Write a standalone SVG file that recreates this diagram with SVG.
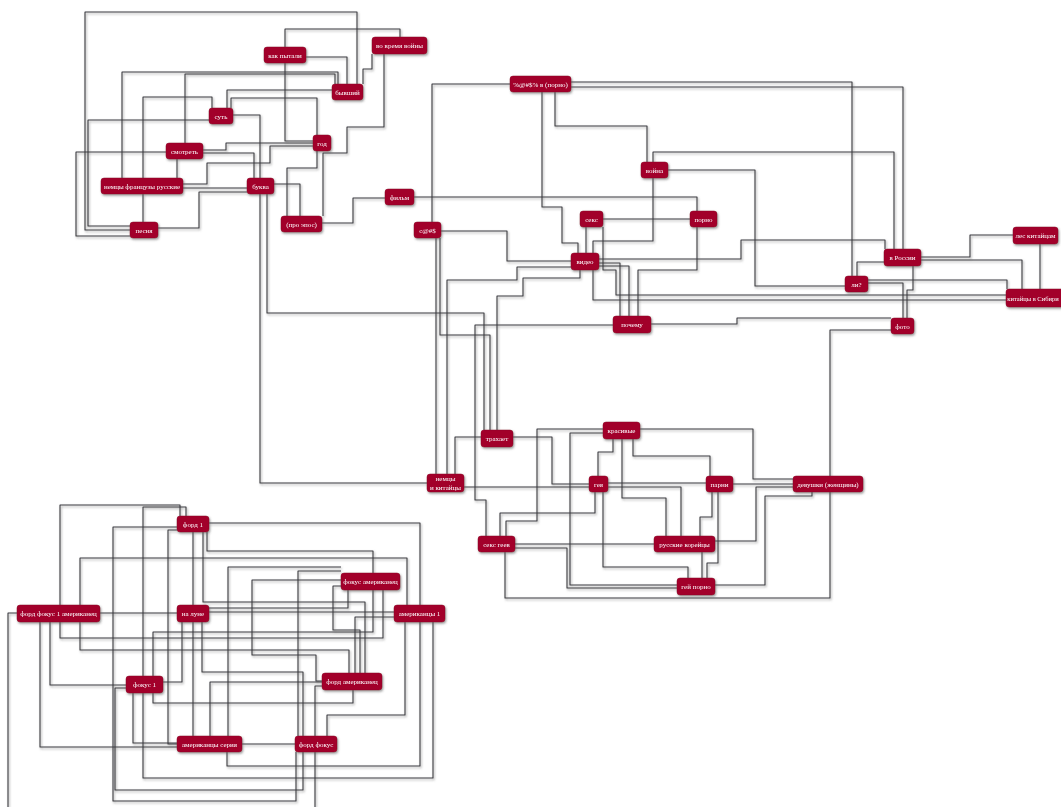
<svg xmlns="http://www.w3.org/2000/svg" width="1061" height="807" viewBox="0 0 1061 807">
<defs>
<filter id="sh" x="-20%" y="-20%" width="140%" height="140%"><feDropShadow dx="1" dy="1.5" stdDeviation="1.2" flood-color="#555" flood-opacity="0.6"/></filter>
<filter id="lsh" x="-5%" y="-5%" width="110%" height="110%"><feDropShadow dx="1" dy="1.5" stdDeviation="0.8" flood-color="#777" flood-opacity="0.7"/></filter>
</defs>
<style>
.e{fill:none;stroke:#3b3b40;stroke-width:1.1;stroke-linejoin:round}
.n rect{fill:#a2002c;stroke:#8a0024;stroke-width:0.5}
.n text{fill:#fff;font-family:"Liberation Serif","DejaVu Serif",serif;font-size:7px;text-anchor:middle}
</style>
<rect width="1061" height="807" fill="#fff"/>
<g id="connectors" filter="url(#lsh)">
<path class="e" d="M130,230 H85 V12 H357 V84"/>
<path class="e" d="M400,37 V29 H285 V141 H313"/>
<path class="e" d="M306,57 H347 V84"/>
<path class="e" d="M363,84 V69 H372 V54"/>
<path class="e" d="M384,54 V127 H347 V153 H323 V216"/>
<path class="e" d="M122,178 V72 H338 V84"/>
<path class="e" d="M185,143 V74 H335 V84"/>
<path class="e" d="M143,178 V97 H212 V108"/>
<path class="e" d="M227,108 V90 H332"/>
<path class="e" d="M231,108 V98 H317 V135"/>
<path class="e" d="M233,115 H260 V178"/>
<path class="e" d="M203,150 H226 V143 H313"/>
<path class="e" d="M203,153 H254 V178"/>
<path class="e" d="M166,152 H76 V236 H130"/>
<path class="e" d="M177,178 V159"/>
<path class="e" d="M143,194 V222"/>
<path class="e" d="M183,184 H207 V163 H270 V146 H313"/>
<path class="e" d="M183,188 H247"/>
<path class="e" d="M158,228 H199 V192 H247"/>
<path class="e" d="M274,184 H300 V216"/>
<path class="e" d="M322,223 H353 V198 H385"/>
<path class="e" d="M317,151 V168 H287 V216"/>
<path class="e" d="M130,226 H88 V120 H209"/>
<path class="e" d="M260,194 V483 H427"/>
<path class="e" d="M267,194 V313 H484 V430"/>
<path class="e" d="M510,84 H432 V222"/>
<path class="e" d="M542,92 V207 H562 V243 H578 V253"/>
<path class="e" d="M555,92 V126 H647 V162"/>
<path class="e" d="M571,82 H852 V276"/>
<path class="e" d="M571,87 H903 V249"/>
<path class="e" d="M653,162 V152 H894 V249"/>
<path class="e" d="M668,170 H755 V286 H845"/>
<path class="e" d="M653,178 V241 H593 V300 H1006"/>
<path class="e" d="M603,219 H690"/>
<path class="e" d="M586,227 V253"/>
<path class="e" d="M603,227 V270 H616 V295 H1006"/>
<path class="e" d="M599,263 H620 V316"/>
<path class="e" d="M599,266 H629 V316"/>
<path class="e" d="M599,259 H741 V240 H885 V249"/>
<path class="e" d="M697,227 V270 H638 V316"/>
<path class="e" d="M414,197 H697 V211"/>
<path class="e" d="M441,231 H507 V261 H571"/>
<path class="e" d="M436,238 V474"/>
<path class="e" d="M440,238 V335 H490 V430"/>
<path class="e" d="M571,267 H517 V280 H447 V474"/>
<path class="e" d="M580,270 V278 H523 V296 H497 V430"/>
<path class="e" d="M613,325 H475 V500 H486 V536"/>
<path class="e" d="M651,324 H737 V318 H891"/>
<path class="e" d="M891,330 H830 V598 H505 V552"/>
<path class="e" d="M913,266 V290 H907 V318"/>
<path class="e" d="M868,283 H903 V318"/>
<path class="e" d="M857,276 V262 H884"/>
<path class="e" d="M868,280 H1007 V289"/>
<path class="e" d="M921,257 H970 V235 H1013"/>
<path class="e" d="M921,260 H1022 V289"/>
<path class="e" d="M1040,244 V289"/>
<path class="e" d="M481,437 H455 V474"/>
<path class="e" d="M513,437 H552 V484 H589"/>
<path class="e" d="M464,487 H681 V536"/>
<path class="e" d="M640,429 H753 V479 H793"/>
<path class="e" d="M603,429 H537 V521 H506 V536"/>
<path class="e" d="M603,433 H570 V585 H677"/>
<path class="e" d="M613,439 V452 H598 V476"/>
<path class="e" d="M633,439 V456 H710 V476"/>
<path class="e" d="M622,439 V498 H666 V536"/>
<path class="e" d="M603,492 V567 H688 V578"/>
<path class="e" d="M608,483 H706"/>
<path class="e" d="M595,492 V513 H500 V536"/>
<path class="e" d="M733,484 H793"/>
<path class="e" d="M712,492 V517 H700 V536"/>
<path class="e" d="M718,492 V563 H707 V578"/>
<path class="e" d="M702,552 V578"/>
<path class="e" d="M793,487 H756 V541 H715"/>
<path class="e" d="M812,492 V496 H765 V585 H715"/>
<path class="e" d="M515,544 H654"/>
<path class="e" d="M515,548 H567 V588 H677"/>
<path class="e" d="M193,532 V605"/>
<path class="e" d="M209,523 H420 V766 H227 V752"/>
<path class="e" d="M207,532 V551 H373 V632 H153 V676"/>
<path class="e" d="M383,590 V638 H60 V505 H180 V516"/>
<path class="e" d="M186,516 V507 H143 V778 H433 V622"/>
<path class="e" d="M203,532 V602 H365 V673"/>
<path class="e" d="M177,527 H113 V801 H296 V752"/>
<path class="e" d="M177,530 H168 V744 H177"/>
<path class="e" d="M40,622 V747 H177"/>
<path class="e" d="M50,622 V685 H126"/>
<path class="e" d="M17,613 H8 V807"/>
<path class="e" d="M80,605 V558 H407 V605"/>
<path class="e" d="M80,622 V650 H349 V673"/>
<path class="e" d="M100,613 H177"/>
<path class="e" d="M182,622 V682 H163"/>
<path class="e" d="M193,622 V736"/>
<path class="e" d="M202,622 V672 H303 V736"/>
<path class="e" d="M126,688 H115 V790 H303 V752"/>
<path class="e" d="M209,612 H394"/>
<path class="e" d="M209,608 H348 V590"/>
<path class="e" d="M133,693 V743 H177"/>
<path class="e" d="M153,693 V703 H353 V690"/>
<path class="e" d="M210,736 V682 H322"/>
<path class="e" d="M228,736 V567 H341"/>
<path class="e" d="M242,744 H295"/>
<path class="e" d="M327,736 V715 H405 V622"/>
<path class="e" d="M298,736 V571 H341"/>
<path class="e" d="M341,586 H333 V630 H360 V673"/>
<path class="e" d="M341,580 H252 V655 H316 V681 H322"/>
<path class="e" d="M394,617 H355 V673"/>
<path class="e" d="M322,686 H315 V807"/>
</g>
<g filter="url(#sh)">
<g id="n-kak" class="n"><rect x="264" y="47" width="42" height="16" rx="3"/><text x="285" y="57.5">как пытали</text></g>
<g id="n-vovremya" class="n"><rect x="372" y="37" width="55" height="17" rx="3"/><text x="399.5" y="48">во время войны</text></g>
<g id="n-byvshiy" class="n"><rect x="332" y="84" width="31" height="16" rx="3"/><text x="347.5" y="94.5">бывший</text></g>
<g id="n-sut" class="n"><rect x="209" y="108" width="24" height="16" rx="3"/><text x="221" y="118.5">суть</text></g>
<g id="n-god" class="n"><rect x="313" y="135" width="18" height="16" rx="3"/><text x="322" y="145.5">год</text></g>
<g id="n-smotret" class="n"><rect x="166" y="143" width="37" height="16" rx="3"/><text x="184.5" y="153.5">смотреть</text></g>
<g id="n-nemcyfr" class="n"><rect x="101" y="178" width="82" height="16" rx="3"/><text x="142" y="188.5">немцы французы русские</text></g>
<g id="n-bukva" class="n"><rect x="247" y="178" width="27" height="16" rx="3"/><text x="260.5" y="188.5">буква</text></g>
<g id="n-pesnya" class="n"><rect x="130" y="222" width="28" height="16" rx="3"/><text x="144" y="232.5">песня</text></g>
<g id="n-epos" class="n"><rect x="281" y="216" width="41" height="16" rx="3"/><text x="301.5" y="226.5">(про эпос)</text></g>
<g id="n-film" class="n"><rect x="385" y="189" width="29" height="16" rx="3"/><text x="399.5" y="199.5">фильм</text></g>
<g id="n-s" class="n"><rect x="414" y="222" width="27" height="16" rx="3"/><text x="427.5" y="232.5">с@#$</text></g>
<g id="n-pv" class="n"><rect x="510" y="76" width="61" height="16" rx="3"/><text x="540.5" y="86.5">%@#$% в (порно)</text></g>
<g id="n-voyna" class="n"><rect x="641" y="162" width="27" height="16" rx="3"/><text x="654.5" y="172.5">война</text></g>
<g id="n-seks" class="n"><rect x="580" y="211" width="23" height="16" rx="3"/><text x="591.5" y="221.5">секс</text></g>
<g id="n-porno" class="n"><rect x="690" y="211" width="27" height="16" rx="3"/><text x="703.5" y="221.5">порно</text></g>
<g id="n-video" class="n"><rect x="571" y="253" width="28" height="17" rx="3"/><text x="585" y="264">видео</text></g>
<g id="n-pochemu" class="n"><rect x="613" y="316" width="38" height="17" rx="3"/><text x="632" y="327">почему</text></g>
<g id="n-vrossii" class="n"><rect x="884" y="249" width="37" height="17" rx="3"/><text x="902.5" y="260">в России</text></g>
<g id="n-li" class="n"><rect x="845" y="276" width="23" height="16" rx="3"/><text x="856.5" y="286.5">ли?</text></g>
<g id="n-les" class="n"><rect x="1013" y="227" width="45" height="17" rx="3"/><text x="1035.5" y="238">лес китайцам</text></g>
<g id="n-kitsib" class="n"><rect x="1006" y="289" width="72" height="18" rx="3"/><text x="1033" y="300.5" style="font-size:6.5px">китайцы в Сибири</text></g>
<g id="n-foto" class="n"><rect x="891" y="318" width="23" height="16" rx="3"/><text x="902.5" y="328.5">фото</text></g>
<g id="n-trahaet" class="n"><rect x="481" y="430" width="32" height="17" rx="3"/><text x="497" y="441">трахает</text></g>
<g id="n-krasivye" class="n"><rect x="603" y="422" width="37" height="17" rx="3"/><text x="621.5" y="433">красивые</text></g>
<g id="n-nemkit" class="n"><rect x="427" y="474" width="37" height="18" rx="3"/><text x="445.5" y="481">немцы</text><text x="445.5" y="489.5">и китайцы</text></g>
<g id="n-geya" class="n"><rect x="589" y="476" width="19" height="16" rx="3"/><text x="598.5" y="486.5">гея</text></g>
<g id="n-parni" class="n"><rect x="706" y="476" width="27" height="16" rx="3"/><text x="719.5" y="486.5">парни</text></g>
<g id="n-devushki" class="n"><rect x="793" y="476" width="70" height="16" rx="3"/><text x="828" y="486.5">девушки (женщины)</text></g>
<g id="n-seksgeev" class="n"><rect x="478" y="536" width="37" height="16" rx="3"/><text x="496.5" y="546.5">секс геев</text></g>
<g id="n-ruskor" class="n"><rect x="654" y="536" width="61" height="16" rx="3"/><text x="684.5" y="546.5">русские корейцы</text></g>
<g id="n-geyporno" class="n"><rect x="677" y="578" width="38" height="17" rx="3"/><text x="696" y="589">гей порно</text></g>
<g id="n-ford1" class="n"><rect x="177" y="516" width="32" height="16" rx="3"/><text x="193" y="526.5">форд 1</text></g>
<g id="n-fokusam" class="n"><rect x="341" y="573" width="59" height="17" rx="3"/><text x="370.5" y="584">фокус американец</text></g>
<g id="n-ff1a" class="n"><rect x="17" y="605" width="83" height="17" rx="3"/><text x="58.5" y="616">форд фокус 1 американец</text></g>
<g id="n-nalune" class="n"><rect x="177" y="605" width="32" height="17" rx="3"/><text x="193" y="616">на луне</text></g>
<g id="n-amer1" class="n"><rect x="394" y="605" width="51" height="17" rx="3"/><text x="419.5" y="616">американцы 1</text></g>
<g id="n-fordam" class="n"><rect x="322" y="673" width="60" height="17" rx="3"/><text x="352" y="684">форд американец</text></g>
<g id="n-fokus1" class="n"><rect x="126" y="676" width="37" height="17" rx="3"/><text x="144.5" y="687">фокус 1</text></g>
<g id="n-amerser" class="n"><rect x="177" y="736" width="65" height="16" rx="3"/><text x="209.5" y="746.5">американцы серия</text></g>
<g id="n-fordfokus" class="n"><rect x="295" y="736" width="42" height="16" rx="3"/><text x="316" y="746.5">форд фокус</text></g>
</g>
</svg>
